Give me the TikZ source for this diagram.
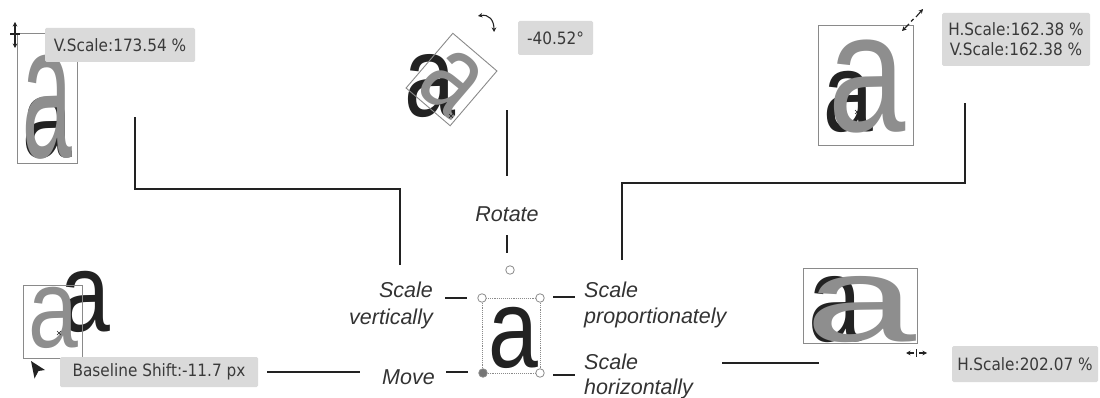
\documentclass[tikz,border=0pt]{standalone}
\usepackage{fontspec}
\setmainfont{Liberation Sans}
\newfontfamily\tipfont{DejaVu Sans Condensed}
\usetikzlibrary{arrows.meta}
\definecolor{ink}{HTML}{222222}
\definecolor{labelgray}{HTML}{333333}
\definecolor{tipfill}{HTML}{DADADA}
\definecolor{tiptext}{HTML}{3A3A3A}
\definecolor{ghost}{HTML}{8E8E8E}
\definecolor{frame}{HTML}{8A8A8A}
% one letter "a", stretched by #1 horizontally and #2 vertically
\newcommand{\aglyph}[2]{\scalebox{#1}[#2]{\fontsize{112}{112}\selectfont a}}
\begin{document}
\begin{tikzpicture}[x=1pt,y=-1pt,
  lbl/.style={font=\fontsize{21.5}{27}\selectfont\itshape, text=labelgray, inner sep=0},
  tip/.style={fill=tipfill, text=tiptext, font=\tipfont\fontsize{17}{20}\selectfont,
              rounded corners=1.5pt, inner sep=0, align=center},
  conn/.style={draw=ink, line width=1.3pt},
  glyph/.style={inner sep=0, anchor=base west},
  darkglyph/.style={glyph, text=ink},
  ghostglyph/.style={glyph, text=ghost},
  selbox/.style={draw=frame, line width=0.9pt, inner sep=0},
  handle/.style={circle, draw=frame, fill=white, line width=0.8pt, minimum size=8.5pt, inner sep=0},
  icon/.style={draw=ink, line width=1.1pt},
  tipa/.style={-{Stealth[length=4.5pt,width=4.5pt]}},
  cross/.style={draw=ink, line width=0.6pt},
]
\useasboundingbox (0,0) rectangle (1100,398);

% ---------- central letter with its handles ----------
\node[darkglyph] (ca) at (488,367) {\aglyph{0.8}{1}};
\node[selbox, densely dotted, minimum width=58pt, minimum height=75pt] (cbox) at (511,335.5) {};
\node[handle] (htl) at (482,298) {};
\node[handle] (htr) at (540,298) {};
\node[handle] (hbr) at (540,373) {};
\node[handle, fill=frame!85!black] (hbl) at (483,373) {};
\node[handle] (hrot) at (510,270) {};

% ---------- labels ----------
\node[lbl, anchor=base] (lrot) at (507,222) {Rotate};
\node[lbl, anchor=base east] (lsv1) at (433,297) {Scale};
\node[lbl, anchor=base east] (lsv2) at (433,324) {vertically};
\node[lbl, anchor=base east] (lmove) at (435,384) {Move};
\node[lbl, anchor=base west] (lsp1) at (584,297) {Scale};
\node[lbl, anchor=base west] (lsp2) at (584,323) {proportionately};
\node[lbl, anchor=base west] (lsh1) at (584,369) {Scale};
\node[lbl, anchor=base west] (lsh2) at (584,394) {horizontally};

% short ticks between labels and handles
\coordinate (trA) at (507,235); \coordinate (trB) at (507,253);
\coordinate (tvA) at (445,298); \coordinate (tvB) at (467,298);
\coordinate (tmA) at (446,372); \coordinate (tmB) at (468,372);
\coordinate (tpA) at (553,297); \coordinate (tpB) at (575,297);
\coordinate (thA) at (553,375); \coordinate (thB) at (575,375);
\draw[conn] (trA) -- (trB);
\draw[conn] (tvA) -- (tvB);
\draw[conn] (tmA) -- (tmB);
\draw[conn] (tpA) -- (tpB);
\draw[conn] (thA) -- (thB);

% ---------- vertical scaling sample ----------
\node[darkglyph] (va) at (22,158) {\aglyph{0.8}{1}};
\node[ghostglyph] (vg) at (22,158) {\aglyph{0.8}{1.7}};
\node[selbox, minimum width=60pt, minimum height=130pt] (vbox) at (47,98) {};
\draw[icon, tipa] (15,35) -- (15,22);
\draw[icon, tipa] (15,35) -- (15,48);
\draw[icon] (10,34) -- (20,34);
\node[tip, minimum width=150pt, minimum height=34pt] (vtip) at (120,45) {V.Scale:173.54 \%};

% ---------- rotation sample ----------
\node[darkglyph] (ra) at (404,117) {\aglyph{0.82}{1.03}};
\node[inner sep=0, text=ghost, rotate=-40.52] (rg) at (452,82) {\aglyph{0.8}{1}};
\node[selbox, minimum width=58pt, minimum height=72pt, rotate=-40.52] (rbox) at (451.5,79.5) {};
\draw[cross] (449,114) -- (453,118) (449,118) -- (453,114);
\draw[icon, {Stealth[length=4.5pt,width=4.5pt]}-{Stealth[length=4.5pt,width=4.5pt]}]
  (478,16) .. controls (489,14) and (494,20) .. (494,32);
\node[tip, minimum width=75pt, minimum height=34pt] (rtip) at (555.5,38) {-40.52°};

% ---------- proportional scaling sample ----------
\node[darkglyph] (pa) at (823,132) {\aglyph{0.8}{1}};
\node[ghostglyph] (pg) at (828,132) {\aglyph{1.24}{1.52}};
\node[selbox, minimum width=95pt, minimum height=120pt] (pbox) at (865.5,85) {};
\draw[cross] (855,110) -- (859,114) (855,114) -- (859,110);
\draw[icon, tipa] (909,24) -- (902,31);
\draw[icon, tipa] (916,17) -- (923,9);
\draw[icon] (911,21.5) -- (913.5,19);
\node[tip, minimum width=148pt, minimum height=53pt] (ptip) at (1016,39.5)
  {H.Scale:162.38 \%\\V.Scale:162.38 \%};

% ---------- baseline shift sample ----------
\node[darkglyph] (ba) at (60,331) {\aglyph{0.8}{1}};
\node[ghostglyph] (bg) at (28,347) {\aglyph{0.8}{1}};
\node[selbox, minimum width=59pt, minimum height=73pt] (bbox) at (52.5,321.5) {};
\draw[cross] (57,331) -- (61,335) (57,335) -- (61,331);
\fill[ink] (31,361) -- (45,370) -- (38.5,371) -- (34.5,378.5) -- cycle;
\node[tip, minimum width=198pt, minimum height=30pt] (btip) at (159,372) {Baseline Shift:-11.7 px};

% ---------- horizontal scaling sample ----------
\node[darkglyph] (ha) at (808,341) {\aglyph{0.86}{1.08}};
\node[ghostglyph] (hg) at (805,341) {\aglyph{1.78}{1.08}};
\node[selbox, minimum width=114pt, minimum height=75pt] (hbox) at (860,305.5) {};
\draw[icon, tipa] (914,353) -- (906,353);
\draw[icon, tipa] (919,353) -- (927,353);
\draw[icon, line width=0.9pt] (916.5,349) -- (916.5,357);
\node[tip, minimum width=146pt, minimum height=36pt] (htip) at (1025,364) {H.Scale:202.07 \%};

% ---------- leader lines from the labels to the samples ----------
\coordinate (lv0) at (400,265); \coordinate (lv1) at (400,189);
\coordinate (lv2) at (135,189); \coordinate (lv3) at (135,117);
\draw[conn] (lv0) -- (lv1) -- (lv2) -- (lv3);
\coordinate (lr0) at (507,176); \coordinate (lr1) at (507,110);
\draw[conn] (lr0) -- (lr1);
\coordinate (lp0) at (622,260); \coordinate (lp1) at (622,183);
\coordinate (lp2) at (965,183); \coordinate (lp3) at (965,103);
\draw[conn] (lp0) -- (lp1) -- (lp2) -- (lp3);
\coordinate (lm0) at (267,372); \coordinate (lm1) at (360,372);
\draw[conn] (lm0) -- (lm1);
\coordinate (lh0) at (722,363); \coordinate (lh1) at (819,363);
\draw[conn] (lh0) -- (lh1);
\end{tikzpicture}
\end{document}
